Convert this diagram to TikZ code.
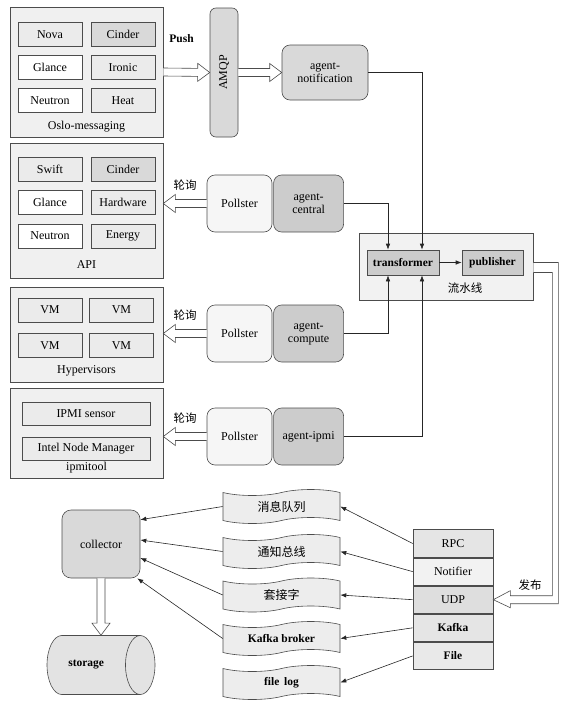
\documentclass[tikz,border=0pt]{standalone}
\usepackage{fontspec}
\setmainfont{Liberation Serif}
\newfontfamily\cjk{Noto Sans CJK SC}
\usetikzlibrary{calc, positioning, shapes.symbols, shapes.geometric, arrows.meta}

\colorlet{lite}{gray!16}
\colorlet{mid}{gray!30}
\colorlet{dark}{gray!40}

\tikzset{
	box/.style={draw=black!70, line width=0.6pt, inner sep=1pt},
	grp/.style={box, fill=gray!12, minimum width=153},
	cell/.style={box, minimum width=64, minimum height=24},
	pollbox/.style={box, fill=gray!7, rounded corners=8pt, minimum width=65, minimum height=57},
	agentbox/.style={box, fill=dark, rounded corners=8pt, minimum width=70, minimum height=57, align=center},
	stackbox/.style={box, minimum width=80, minimum height=27.5},
	doc/.style={box, tape, fill=gray!14, minimum width=117, minimum height=34, tape bend height=6pt},
	con/.style={draw=black!85, line width=0.6pt, -{Latex[length=6pt,width=4.5pt]}},
	fatline/.style={draw=black!70, fill=white, line width=0.6pt},
	bold/.style={font=\bfseries\fontsize{11.5}{13}\selectfont},
	cjklbl/.style={font=\cjk\fontsize{11.5}{12}\selectfont}
}

\newcommand{\fatarrow}[2]{%
	\path let \p1=(#1), \p2=(#2) in \pgfextra{%
		\pgfmathsetmacro\fa{atan2(\y2-\y1,\x2-\x1)}\global\let\fatang\fa
		\pgfmathsetlengthmacro\fl{veclen(\x2-\x1,\y2-\y1)}\global\let\fatlen\fl};
	\begin{scope}[shift={(#1)}, rotate=\fatang]
		\draw[fatline] (0pt,4pt) -- ({\fatlen-12pt},4pt) -- ({\fatlen-12pt},9pt) -- (\fatlen,0pt)
			-- ({\fatlen-12pt},-9pt) -- ({\fatlen-12pt},-4pt) -- (0pt,-4pt);
	\end{scope}}

\begin{document}
\begin{tikzpicture}[x=1pt, y=-1pt, font=\fontsize{12}{13}\selectfont]
	\useasboundingbox (0,0) rectangle (566,707);

	% source groups
	\node[grp, minimum height=130] (oslo) at (86.5,72) {};
	\node[grp, minimum height=135] (api) at (86.5,210.5) {};
	\node[grp, minimum height=95] (hyp) at (86.5,334.5) {};
	\node[grp, minimum height=90] (ipmi) at (86.5,433) {};

	\foreach \n/\t/\f/\x/\y in {nova/Nova/lite/50/34.5, cinA/Cinder/mid/123/34.5,
		glA/Glance/white/50/67.5, ironic/Ironic/lite/123/67.5,
		neuA/Neutron/white/50/100.5, heat/Heat/lite/123/100.5,
		swift/Swift/lite/50/169.5, cinB/Cinder/mid/123/169.5,
		glB/Glance/white/50/202.5, hw/Hardware/lite/123/202.5,
		neuB/Neutron/white/50/236, energy/Energy/lite/123/236,
		vmA/VM/lite/50/310, vmB/VM/lite/121.5/310,
		vmC/VM/lite/50/345.5, vmD/VM/lite/121.5/345.5}
	{
		\node[cell, fill=\f] (\n) at (\x,\y) {\t};
	}
	\node[cell, fill=lite, minimum width=128, minimum height=23] (sensor) at (86,413.5) {IPMI sensor};
	\node[cell, fill=lite, minimum width=128, minimum height=23] (nodemgr) at (86,448.5) {Intel Node Manager};

	\node (osloname) at (86.5,127) {Oslo-messaging};
	\node (apiname) at (86.5,265) {API};
	\node (hypname) at (86.5,371) {Hypervisors};
	\node (ipminame) at (86.5,468) {ipmitool};

	% agents
	\node[box, fill=mid, rounded corners=6pt, minimum width=28, minimum height=129] (amqp) at (224,72.5) {\rotatebox{90}{AMQP}};
	\node[box, fill=mid, rounded corners=8pt, minimum width=86, minimum height=55, align=center] (notif) at (325,72.5) {agent-\\notification};

	\node[pollbox] (polA) at (239.5,203.5) {Pollster};
	\node[agentbox, right=1pt of polA] (central) {agent-\\central};
	\node[pollbox] (polB) at (239.5,333.5) {Pollster};
	\node[agentbox, right=1pt of polB] (compute) {agent-\\compute};
	\node[pollbox] (polC) at (239.5,436.5) {Pollster};
	\node[agentbox, right=1pt of polC] (agipmi) {agent-ipmi};

	% pipeline
	\node[box, fill=gray!10, minimum width=174, minimum height=67] (flow) at (446,266.5) {};
	\node[box, fill=dark, minimum width=72, minimum height=25, bold] (trans) at (403,262.5) {transformer};
	\node[box, fill=dark, minimum width=61, minimum height=25, bold] (pub) at (492.5,262.5) {publisher};
	\node[cjklbl] (flowname) at (465,288) {流水线};

	% fat arrows
	\fatarrow{oslo.east}{amqp.west}
	\fatarrow{amqp.east}{notif.west}
	\fatarrow{polA.west}{api.east |- polA.west}
	\fatarrow{polB.west}{hyp.east |- polB.west}
	\fatarrow{polC.west}{ipmi.east |- polC.west}
	\node[bold] (push) at ($(oslo.east)!.5!(amqp.west)+(-5,-34)$) {Push};
	\node[cjklbl, above=10pt] (pollA) at ($(polA.west)!.5!(api.east |- polA.west)$) {轮询};
	\node[cjklbl, above=10pt] (pollB) at ($(polB.west)!.5!(hyp.east |- polB.west)$) {轮询};
	\node[cjklbl, above=10pt] (pollC) at ($(polC.west)!.5!(ipmi.east |- polC.west)$) {轮询};

	\draw[con] (notif.east) -| ($(trans.north)+(19,0)$);
	\draw[con] (central.east) -| ($(trans.north)+(-15,0)$);
	\draw[con] (compute.east) -| ($(trans.south)+(-15,0)$);
	\draw[con] (agipmi.east) -| ($(trans.south)+(19,0)$);
	\draw[con] (trans) -- (pub);

	% publishers
	\node[stackbox, fill=gray!20] (rpc) at (453,543.5) {RPC};
	\node[stackbox, fill=gray!10, below=0pt of rpc] (notifier) {Notifier};
	\node[stackbox, fill=gray!26, below=0pt of notifier] (udp) {UDP};
	\node[stackbox, fill=gray!20, below=0pt of udp, bold] (kafka) {Kafka};
	\node[stackbox, fill=gray!17, below=0pt of kafka, bold] (file) {File};

	\coordinate (pr) at (flow.east |- pub.east);
	\draw[fatline] (pr) -- ++(25,0) |- ($(udp.east)+(17,4)$) -- ++(0,4) -- (udp.east) -- ++(17,-9)
		-- ++(0,5) -| ($(pr)+(19,10)$) -- ++(-19,0);
	\node[cjklbl] (fabu) at (530,585) {发布};

	\node[doc] (mq) at (281.5,506.5) {\cjk 消息队列};
	\node[doc] (bus) at (281.5,551.5) {\cjk 通知总线};
	\node[doc] (sock) at (281.5,595) {\cjk 套接字};
	\node[doc, bold] (broker) at (281.5,638.5) {Kafka broker};
	\node[doc, bold] (flog) at (281.5,682.5) {file\, log};

	\draw[con] (rpc.west) -- (mq.east);
	\draw[con] (notifier.west) -- (bus.east);
	\draw[con] (udp.west) -- (sock.east);
	\draw[con] (kafka.west) -- (broker.east);
	\draw[con] (file.west) -- (flog.east);

	% collector and storage
	\node[box, fill=mid, rounded corners=9pt, minimum width=78, minimum height=68] (coll) at (101,544) {collector};
	\node[box, cylinder, fill=gray!22, shape aspect=0.5, inner ysep=25pt, minimum height=108, anchor=shape center, bold] (store) at (101,665) {storage};

	\draw[con] (mq.west) -- ($(coll.north east)+(0,10)$);
	\draw[con] (bus.west) -- ($(coll.east)+(0,-4)$);
	\draw[con] (sock.west) -- ($(coll.east)+(0,14)$);
	\draw[con] (broker.west) -- ($(coll.south east)+(-3,0)$);
	\fatarrow{coll.south}{coll.south |- store.north}
\end{tikzpicture}
\end{document}
